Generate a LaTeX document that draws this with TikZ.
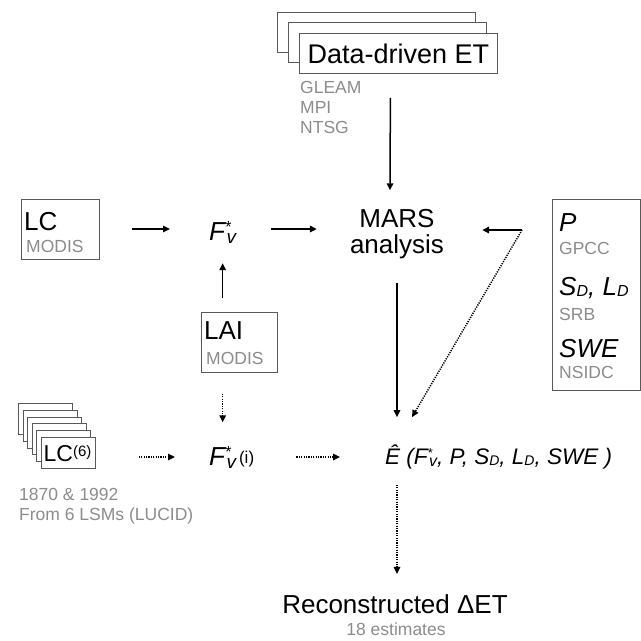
\documentclass[tikz,border=0pt]{standalone}
\usepackage{fontspec}
\setmainfont{Liberation Sans}
\usetikzlibrary{arrows.meta}
\definecolor{srcgray}{gray}{0.55}
\definecolor{boxgray}{gray}{0.35}
\newcommand{\fsz}[1]{\fontsize{#1}{#1}\selectfont}
% F*_v : #1 size of F, #2 size of v, #3 size of *, #4 raise of *, #5 lowering of v
\newcommand{\myFv}[5]{{\fsz{#1}\itshape F\kern0.3pt\rlap{\raisebox{#4}{\fsz{#3}\upshape *}}\kern1.2pt\raisebox{-#5}{\fsz{#2}v}}}
\newcommand{\mysub}[2]{\raisebox{-1pt}{\fsz{#1}#2}}
\begin{document}
\begin{tikzpicture}[x=1pt,y=-1pt,
  box/.style={draw=boxgray, line width=0.8pt, fill=white, inner sep=0pt},
  txt/.style={inner sep=0pt, anchor=base west},
  big/.style={font=\fsz{26}},
  src/.style={font=\fsz{17.5}, text=srcgray},
  arr/.style={line width=1.5pt, -{Triangle[length=7pt,width=6.5pt]}},
  darr/.style={arr, dash pattern=on 1.2pt off 1.2pt}]
\useasboundingbox (0,0) rectangle (641,641);

% Data-driven ET stack
\node[box, anchor=north west, minimum width=198pt, minimum height=40pt] (ddetc) at (277,12) {};
\node[box, anchor=north west, minimum width=198pt, minimum height=40pt] (ddetb) at (288,22) {};
\node[box, anchor=north west, minimum width=198pt, minimum height=40pt, font=\fsz{27}] (ddet) at (299,33) {Data-driven ET};
\node[txt, src] (gleam) at (300,93) {GLEAM};
\node[txt, src] (mpi) at (300,113) {MPI};
\node[txt, src] (ntsg) at (300,133) {NTSG};

% MARS
\node[align=center, inner sep=0pt, font=\fsz{26}] (mars) at (397,234) {MARS\\[-0.5pt]analysis};

% LC box
\node[box, anchor=north west, minimum width=78pt, minimum height=60pt] (lc) at (21,199) {};
\node[txt, big] (lcname) at (24,230) {LC};
\node[txt, src] (lcsrc) at (26,252) {MODIS};

% F*v
\node[txt] (fv) at (209,240) {\myFv{26}{19}{16}{7.5pt}{3pt}};

% LAI box
\node[box, anchor=north west, minimum width=76pt, minimum height=60pt] (lai) at (201,312) {};
\node[txt, big] (lainame) at (204,339) {LAI};
\node[txt, src] (laisrc) at (206,364) {MODIS};

% P box
\node[box, anchor=north west, minimum width=88pt, minimum height=191pt] (pbox) at (552,199) {};
\node[txt, font=\fsz{26}\itshape] (pp) at (559,231) {P};
\node[txt, src] (gpcc) at (559,254) {GPCC};
\node[txt, font=\fsz{26}\itshape] (sdld) at (559,295) {S\mysub{16}{D}, L\mysub{16}{D}};
\node[txt, src] (srb) at (559,320) {SRB};
\node[txt, font=\fsz{26}\itshape] (swe) at (559,357) {SWE};
\node[txt, src] (nsidc) at (559,378) {NSIDC};

% LC(6) stack
\node[box, anchor=north west, minimum width=54pt, minimum height=31pt] (lcf) at (18,403) {};
\node[box, anchor=north west, minimum width=54pt, minimum height=31pt] (lce) at (22.6,409.8) {};
\node[box, anchor=north west, minimum width=54pt, minimum height=31pt] (lcd) at (27.2,416.6) {};
\node[box, anchor=north west, minimum width=54pt, minimum height=31pt] (lcc) at (31.8,423.4) {};
\node[box, anchor=north west, minimum width=54pt, minimum height=31pt] (lcb) at (36.4,430.2) {};
\node[box, anchor=north west, minimum width=54pt, minimum height=31pt] (lcsix) at (41,437) {};
\node[txt] (lcsixname) at (43.5,461) {\fsz{23}LC\raisebox{5pt}{\fsz{15}(6)}};
\node[txt, src] (lcyears) at (19,500) {1870 \& 1992};
\node[txt, src] (lclsm) at (19,520) {From 6 LSMs (LUCID)};

% F*v(i)
\node[txt] (fvi) at (209,465) {\myFv{26}{19}{16}{7.5pt}{3pt}\kern3pt\raisebox{2pt}{\fsz{17}(i)}};

% E hat
\node[txt, font=\fsz{22.5}\itshape] (ehat) at (385,464) {Ê (\myFv{22.5}{16}{13}{6.5pt}{2pt}, P, S\mysub{14}{D}, L\mysub{14}{D}, SWE )};

% Reconstructed
\node[inner sep=0pt, anchor=base, font=\fsz{26}] (recon) at (395,613) {Reconstructed ΔET};
\node[inner sep=0pt, anchor=base, src] (recsrc) at (396,635) {18 estimates};

\coordinate (rowa) at (0,229);
\coordinate (rowb) at (0,457);
\coordinate (pout) at (522,230);

% connectors
\draw[arr] ([xshift=-8pt,yshift=-24pt]ddet.south) -- ([xshift=-7pt,yshift=19pt]mars.north);
\draw[arr] ([xshift=32pt]lc.east |- rowa) -- ([xshift=-39pt]fv.west |- rowa);
\draw[arr] ([xshift=35pt]fv.east |- rowa) -- ([xshift=-33pt]mars.west |- rowa);
\draw[arr] (pout) -- ([xshift=38pt]mars.east |- pout);
\draw[darr] (pout) -- ([xshift=27pt,yshift=27pt]ehat.north west);
\draw[arr] ([yshift=-24pt]mars.south) -- ([yshift=27pt]mars.south |- ehat.north);
\draw[arr] ([yshift=14pt]fv.south |- lai.north) -- ([yshift=-20pt]fv.south);
\draw[darr] ([yshift=-21pt]fv.south |- lai.south) -- ([yshift=24pt]fv.south |- fvi.north);
\draw[darr] ([xshift=43pt]lcsix.east |- rowb) -- ([xshift=-34pt]fvi.west |- rowb);
\draw[darr] ([xshift=42pt]fvi.east |- rowb) -- ([xshift=-45pt]ehat.west |- rowb);
\draw[darr] ([yshift=-16pt]mars.south |- ehat.south) -- ([yshift=20pt]mars.south |- recon.north);
\end{tikzpicture}
\end{document}
